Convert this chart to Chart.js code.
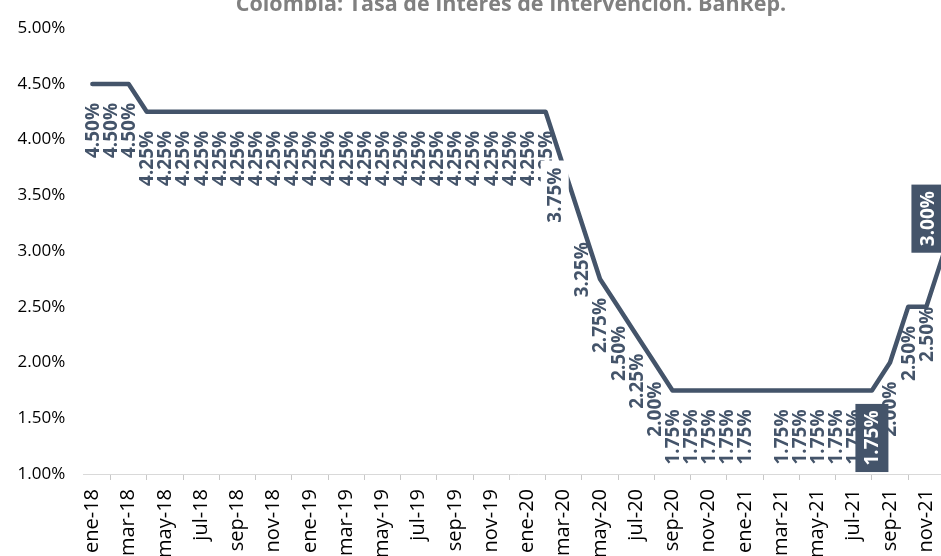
<!DOCTYPE html>
<html lang="es">
<head>
<meta charset="utf-8">
<title>Colombia: Tasa de Interés de Intervención. BanRep.</title>
<script src="https://cdn.jsdelivr.net/npm/chart.js@4.4.1/dist/chart.umd.min.js"></script>
<style>
  html, body { margin: 0; padding: 0; background: #fff; overflow: hidden; }
  #wrap { position: relative; width: 970px; height: 600px; }
</style>
</head>
<body>
<div id="wrap"><canvas id="tasa"></canvas></div>
<script>
const titulo = 'Colombia: Tasa de Interés de Intervención. BanRep.';

const meses = [
  'ene-18', 'feb-18', 'mar-18', 'abr-18', 'may-18', 'jun-18', 'jul-18', 'ago-18', 'sep-18', 'oct-18', 'nov-18', 'dic-18',
  'ene-19', 'feb-19', 'mar-19', 'abr-19', 'may-19', 'jun-19', 'jul-19', 'ago-19', 'sep-19', 'oct-19', 'nov-19', 'dic-19',
  'ene-20', 'feb-20', 'mar-20', 'abr-20', 'may-20', 'jun-20', 'jul-20', 'ago-20', 'sep-20', 'oct-20', 'nov-20', 'dic-20',
  'ene-21', 'feb-21', 'mar-21', 'abr-21', 'may-21', 'jun-21', 'jul-21', 'ago-21', 'sep-21', 'oct-21', 'nov-21', 'dic-21'
];

// tasa de intervención (%), fin de mes
const tasa = [
  4.50, 4.50, 4.50, 4.25, 4.25, 4.25, 4.25, 4.25, 4.25, 4.25, 4.25, 4.25,
  4.25, 4.25, 4.25, 4.25, 4.25, 4.25, 4.25, 4.25, 4.25, 4.25, 4.25, 4.25,
  4.25, 4.25, 3.75, 3.25, 2.75, 2.50, 2.25, 2.00, 1.75, 1.75, 1.75, 1.75,
  1.75, 1.75, 1.75, 1.75, 1.75, 1.75, 1.75, 1.75, 2.00, 2.50, 2.50, 3.00
];

const yTicks = [1.00, 1.50, 2.00, 2.50, 3.00, 3.50, 4.00, 4.50, 5.00];

// etiquetas que no se muestran / que van en recuadro
const sinEtiqueta = ['feb-21'];
const destacadas = ['ago-21', 'dic-21'];

const COLOR = '#44546A';
const FUENTE = '"Open Sans", "DejaVu Sans", sans-serif';

// ajustes de posición de algunas etiquetas (dx, dy respecto al punto)
const ajustes = {
  'mar-20': { dx: -9, dy: 0, fondo: '#ffffff', padX: 7, medio: 14 },
  'nov-21': { dx: 0, dy: 0 },
  'ago-21': { dx: 0, dy: 20, padX: 6.5, medio: 16.5 },
  'dic-21': { dx: -16.5, dy: -60, padX: 6.5, medio: 16.5 }
};

function fmt(v) { return v.toFixed(2) + '%'; }

function dibujarEtiqueta(ctx, texto, x, top, op) {
  ctx.save();
  ctx.translate(x, top);
  ctx.rotate(-Math.PI / 2);
  ctx.font = 'bold 19px ' + FUENTE;
  const w = ctx.measureText(texto).width;
  if (op.fondo) {
    const p = op.padX || 6;
    const m = op.medio || 10;
    ctx.fillStyle = op.fondo;
    ctx.fillRect(-w - p, -m, w + 2 * p, 2 * m);
  }
  ctx.fillStyle = op.color || COLOR;
  ctx.textAlign = 'right';
  ctx.textBaseline = 'middle';
  ctx.fillText(texto, 0, 1);
  ctx.restore();
}

const etiquetasPlugin = {
  id: 'etiquetas',
  afterDatasetsDraw(chart) {
    const ctx = chart.ctx;
    const pts = chart.getDatasetMeta(0).data;
    const ultimas = [];
    pts.forEach((pt, i) => {
      const mes = meses[i];
      if (sinEtiqueta.includes(mes)) return;
      const aj = ajustes[mes] || { dx: 0, dy: 19 };
      const op = Object.assign({}, aj);
      if (destacadas.includes(mes)) {
        op.fondo = COLOR;
        op.color = '#ffffff';
        ultimas.push([pt.x + aj.dx, pt.y + aj.dy, op, tasa[i]]);
        return;
      }
      dibujarEtiqueta(ctx, fmt(tasa[i]), pt.x + aj.dx, pt.y + aj.dy, op);
    });
    // los recuadros van encima del resto
    ultimas.forEach(([x, y, op, v]) => dibujarEtiqueta(ctx, fmt(v), x, y, op));
  }
};

const tituloPlugin = {
  id: 'titulo',
  afterDraw(chart) {
    const ctx = chart.ctx;
    ctx.save();
    ctx.font = 'bold 21.5px ' + FUENTE;
    ctx.fillStyle = '#808080';
    ctx.textAlign = 'center';
    ctx.textBaseline = 'alphabetic';
    ctx.fillText(titulo, 511, 11);
    ctx.restore();
  }
};

new Chart(document.getElementById('tasa'), {
  type: 'line',
  data: {
    labels: meses,
    datasets: [{
      data: tasa,
      borderColor: COLOR,
      borderWidth: 4.5,
      borderCapStyle: 'round',
      borderJoinStyle: 'round',
      pointRadius: 0,
      tension: 0,
      fill: false
    }]
  },
  options: {
    responsive: true,
    maintainAspectRatio: false,
    animation: false,
    layout: { padding: { top: 19.5, right: 16.5, left: 0, bottom: 0 } },
    plugins: {
      legend: { display: false },
      tooltip: { enabled: false },
      title: { display: false }
    },
    scales: {
      x: {
        offset: true,
        grid: { offset: true, drawOnChartArea: false, tickLength: 6, color: '#c8c8c8' },
        border: { color: '#d9d9d9', width: 1 },
        ticks: {
          autoSkip: false,
          minRotation: 90,
          maxRotation: 90,
          padding: 9,
          color: '#000',
          font: { family: FUENTE, size: 20 },
          callback(v, i) { return i % 2 === 0 ? this.getLabelForValue(v) : null; }
        },
        afterFit(s) { s.height = 126; }
      },
      y: {
        min: 1,
        max: 5,
        grid: { display: false, drawTicks: false },
        border: { display: false },
        ticks: {
          padding: 18,
          color: '#000',
          font: { family: FUENTE, size: 17 },
          callback: v => fmt(v)
        },
        afterBuildTicks(s) { s.ticks = yTicks.map(v => ({ value: v })); },
        afterFit(s) { s.width = 83.3; }
      }
    }
  },
  plugins: [etiquetasPlugin, tituloPlugin]
});
</script>
</body>
</html>
